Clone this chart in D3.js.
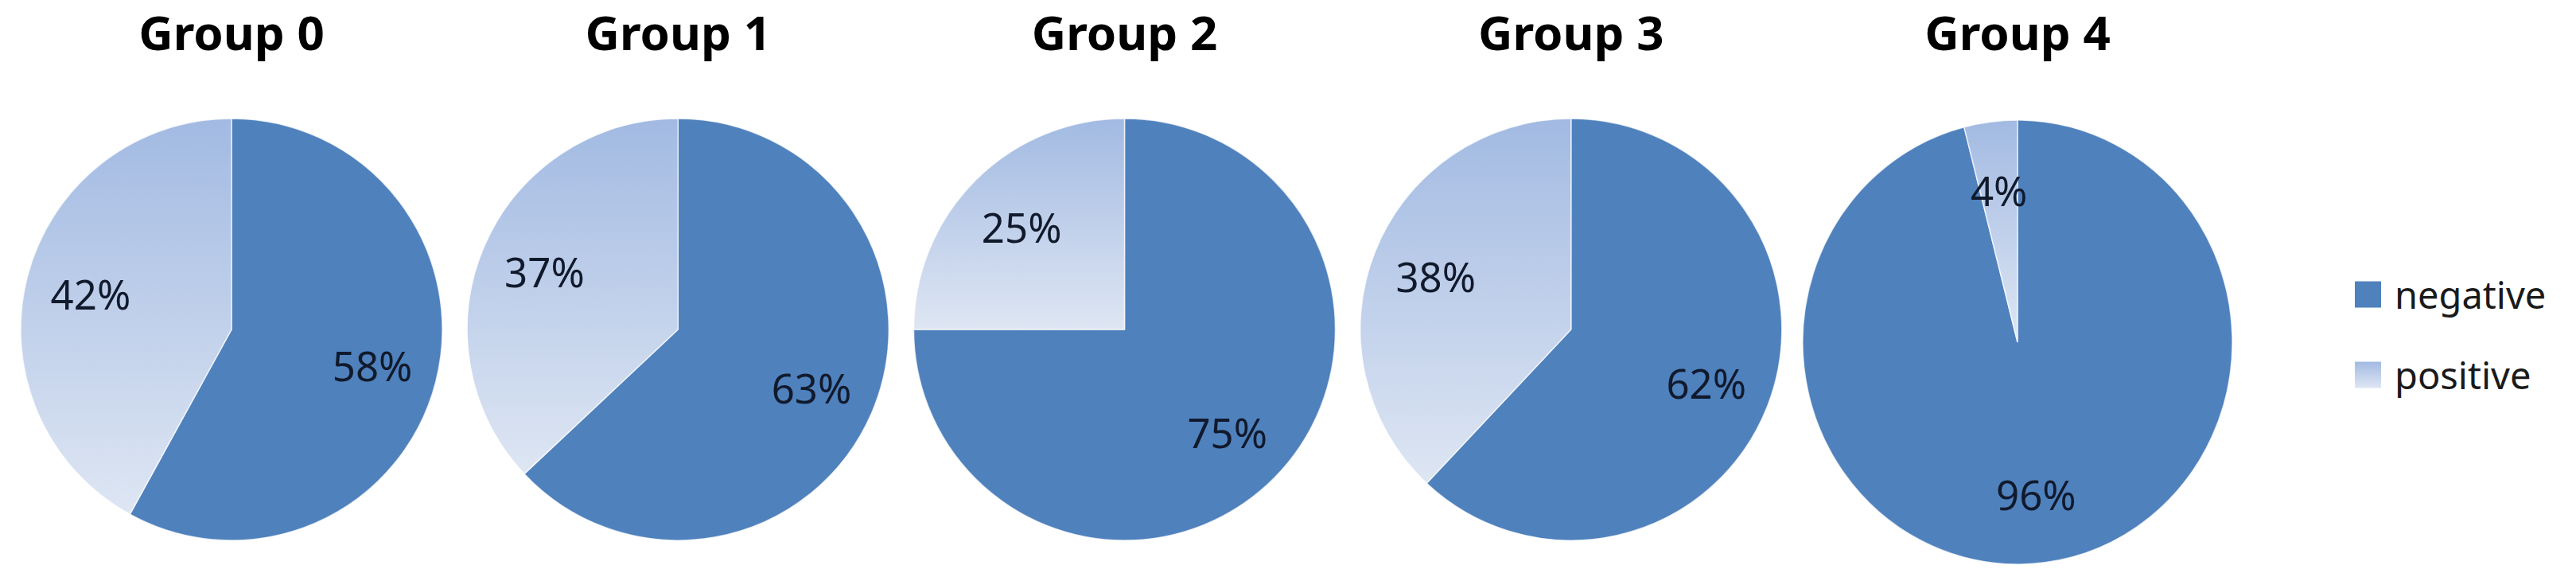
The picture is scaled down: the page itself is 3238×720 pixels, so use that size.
<!DOCTYPE html>
<html><head><meta charset="utf-8">
<script src="https://cdn.jsdelivr.net/npm/d3@7"></script>
<style>body{margin:0;background:#fff}</style>
</head><body><svg id="c" width="3238" height="720"></svg>
<script>
// ---- data ----
const groups = ["Group 0", "Group 1", "Group 2", "Group 3", "Group 4"];
const categories = ["negative", "positive"];
const negativeValues = [58, 63, 75, 62, 96];
const positiveValues = [42, 37, 25, 38, 4];

// ---- layout ----
const svg = d3.select("#c");
svg.append("rect").attr("width", 3238).attr("height", 720).attr("fill", "#fff");
const defs = svg.append("defs");
const grad = defs.append("linearGradient").attr("id", "posGrad")
  .attr("x1", 0).attr("y1", 0).attr("x2", 0).attr("y2", 1);
grad.append("stop").attr("offset", "0%").attr("stop-color", "#A2BAE2");
grad.append("stop").attr("offset", "100%").attr("stop-color", "#DEE6F3");

const color = d3.scaleOrdinal().domain(categories).range(["#4F81BD", "url(#posGrad)"]);
const x = d3.scalePoint().domain(groups).range([291, 2536]);
const defaultShape = {r: 265, ry: 265, cy: 414};
const shapeOverride = {"Group 4": {r: 270, ry: 279, cy: 430}};

const pie = d3.pie().sort(null).value(d => d.value);

groups.forEach((g, i) => {
  const shape = shapeOverride[g] || defaultShape;
  const cx = x(g);
  const data = [
    {cat: categories[0], value: negativeValues[i]},
    {cat: categories[1], value: positiveValues[i]}
  ];
  const arcs = pie(data);
  const arc = d3.arc().innerRadius(0).outerRadius(shape.r);
  const labelArc = d3.arc().innerRadius(shape.r * 0.69).outerRadius(shape.r * 0.69);
  const sy = shape.ry / shape.r;

  const root = svg.append("g").attr("transform", `translate(${cx},${shape.cy})`);
  const slices = root.append("g").attr("transform", `scale(1,${sy})`);
  slices.selectAll("path").data(arcs).join("path")
    .attr("d", arc)
    .attr("fill", d => color(d.data.cat))
    .attr("stroke", "#ffffff")
    .attr("stroke-opacity", 0.7)
    .attr("stroke-width", 1.5)
    .attr("vector-effect", "non-scaling-stroke");

  root.selectAll("text.lbl").data(arcs).join("text")
    .attr("class", "lbl")
    .attr("x", d => labelArc.centroid(d)[0])
    .attr("y", d => labelArc.centroid(d)[1] * sy)
    .attr("text-anchor", "middle")
    .attr("dominant-baseline", "central")
    .attr("font-family", "'Noto Sans', sans-serif")
    .attr("font-size", 51)
    .attr("fill", "#111a2c")
    .text(d => d.data.value + "%");

  svg.append("text")
    .attr("x", cx).attr("y", 63)
    .attr("text-anchor", "middle")
    .attr("font-family", "'Noto Sans', sans-serif")
    .attr("font-weight", "bold")
    .attr("font-size", 60)
    .attr("fill", "#000")
    .text(g);
});

// ---- legend ----
const legendY = d3.scalePoint().domain(categories).range([370, 471]);
const legend = svg.append("g");
categories.forEach(c => {
  legend.append("rect")
    .attr("x", 2960).attr("y", legendY(c) - 16.5)
    .attr("width", 33).attr("height", 33)
    .attr("fill", color(c));
  legend.append("text")
    .attr("x", 3010).attr("y", legendY(c) + 18)
    .attr("font-family", "'Noto Sans', sans-serif")
    .attr("font-size", 47)
    .attr("fill", "#1a1a1a")
    .text(c);
});
</script>
</body></html>
